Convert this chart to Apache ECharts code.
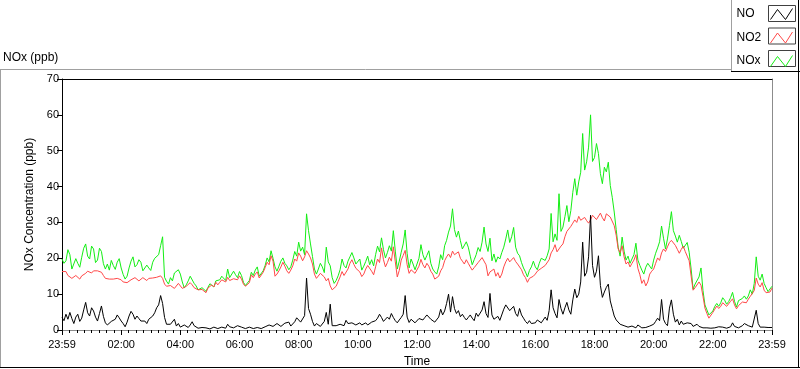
<!DOCTYPE html>
<html>
<head>
<meta charset="utf-8">
<script src="https://cdn.jsdelivr.net/npm/echarts@6/dist/echarts.min.js"></script>
<style>
  html, body { margin: 0; padding: 0; background: #fff; }
  #chart { width: 800px; height: 369px; }
</style>
</head>
<body>
<div id="chart"></div>
<script>
// one sample every 4 minutes, starting at 23:59 of the previous day
const stepMinutes = 4;
const xTickLabels = ['23:59', '02:00', '04:00', '06:00', '08:00', '10:00', '12:00',
  '14:00', '16:00', '18:00', '20:00', '22:00', '23:59'];
const seriesNames = ['NO', 'NO2', 'NOx'];
const seriesColors = { NO: '#000000', NO2: '#ff4848', NOx: '#14ee14' };

const no = [
  3.5, 2.6, 4.4, 3.0, 4.9, 3.2, 1.8, 3.6, 4.4, 2.4,
  3.3, 5.6, 7.7, 4.8, 3.9, 6.2, 5.3, 3.6, 2.5, 4.6,
  6.7, 3.8, 2.0, 1.4, 1.6, 2.4, 2.0, 3.0, 4.2, 3.4,
  2.5, 1.8, 0.9, 2.2, 3.9, 5.2, 4.4, 3.0, 3.9, 3.2,
  2.5, 3.0, 2.5, 1.8, 3.0, 2.6, 3.9, 4.8, 6.2, 7.0,
  9.6, 7.4, 3.5, 1.6, 1.1, 1.6, 2.0, 3.0, 1.1, 1.8,
  0.8, 1.2, 1.4, 0.9, 0.7, 1.4, 2.3, 1.2, 0.7, 0.5,
  0.4, 0.7, 0.3, 0.6, 0.5, 0.3, 0.5, 0.8, 0.7, 0.4,
  0.5, 0.8, 0.8, 0.5, 1.6, 0.9, 1.0, 0.6, 0.7, 1.2,
  1.0, 0.8, 0.7, 0.4, 0.5, 0.8, 0.5, 0.4, 0.5, 0.7,
  0.5, 0.4, 0.7, 0.9, 1.1, 1.4, 1.8, 1.0, 1.3, 1.8,
  1.4, 1.0, 1.1, 1.9, 1.6, 2.2, 1.1, 1.6, 2.3, 3.4,
  3.0, 2.2, 2.5, 4.0, 14.5, 6.0, 4.4, 2.4, 1.1, 1.8,
  1.6, 1.0, 1.3, 2.4, 4.9, 1.6, 7.2, 1.2, 0.7, 1.2,
  1.0, 1.6, 1.8, 1.2, 2.7, 1.8, 1.6, 2.0, 1.8, 1.4,
  1.6, 2.0, 1.4, 1.8, 2.0, 1.4, 1.4, 2.2, 2.0, 2.6,
  3.3, 4.4, 3.5, 2.4, 2.3, 3.6, 3.0, 4.6, 3.5, 2.6,
  2.0, 2.8, 3.5, 4.4, 9.6, 3.6, 2.1, 3.0, 2.5, 2.0,
  2.5, 3.2, 3.5, 2.8, 3.5, 4.2, 3.8, 3.0, 3.0, 2.2,
  2.5, 3.6, 5.8, 4.2, 5.3, 7.4, 10.0, 5.0, 9.3, 6.0,
  4.6, 5.4, 3.7, 4.4, 3.5, 2.8, 3.5, 4.2, 3.3, 2.6,
  4.7, 3.8, 3.6, 5.6, 7.9, 4.6, 3.5, 10.2, 4.2, 3.0,
  3.3, 3.8, 2.7, 3.2, 5.8, 7.0, 6.8, 5.4, 5.8, 6.6,
  4.6, 3.8, 6.0, 4.2, 3.3, 2.4, 1.8, 2.6, 1.8, 1.4,
  2.0, 2.8, 2.7, 2.0, 2.8, 3.6, 2.7, 5.4, 11.2, 6.2,
  4.6, 3.4, 8.5, 6.0, 4.4, 6.2, 7.7, 5.6, 4.4, 8.4,
  11.4, 9.0, 10.0, 13.4, 24.5, 15.0, 16.1, 20.4, 32.0, 18.0,
  14.7, 16.4, 20.7, 12.4, 9.1, 10.6, 11.9, 12.8, 8.1, 6.0,
  3.9, 2.8, 2.3, 1.6, 1.8, 1.2, 1.2, 0.8, 0.7, 1.1,
  1.0, 0.6, 1.4, 1.0, 0.6, 0.9, 0.7, 0.5, 1.1, 1.4,
  1.6, 2.4, 3.3, 2.6, 8.5, 3.0, 1.8, 1.2, 6.1, 8.4,
  4.4, 2.2, 3.0, 1.4, 2.5, 1.6, 1.3, 2.0, 2.3, 1.8,
  1.0, 0.7, 1.6, 1.0, 1.0, 0.6, 0.8, 0.6, 0.8, 0.5,
  0.9, 0.6, 0.7, 0.9, 0.5, 0.8, 0.7, 0.5, 0.7, 0.9,
  2.0, 1.0, 1.0, 0.6, 0.7, 1.2, 1.8, 1.4, 1.2, 1.6,
  0.8, 1.2, 5.5, 1.8, 0.8, 0.6, 0.8, 0.5, 0.7, 0.9,
  0.7
];

const no2 = [
  16.3, 15.8, 16.3, 15.2, 15.6, 14.4, 14.7, 15.2, 14.7, 14.2,
  15.1, 15.6, 15.8, 16.4, 16.3, 15.9, 16.5, 16.8, 16.5, 16.0,
  16.1, 15.2, 14.4, 14.8, 14.2, 13.8, 14.2, 14.7, 14.4, 13.9,
  14.0, 13.4, 13.0, 13.2, 13.5, 14.0, 14.2, 14.6, 14.2, 13.7,
  14.0, 14.6, 14.2, 13.8, 14.4, 14.0, 14.5, 15.0, 14.7, 14.2,
  15.1, 14.4, 12.8, 12.2, 11.9, 12.4, 12.8, 11.6, 11.7, 13.0,
  12.6, 11.6, 11.1, 12.2, 11.7, 13.2, 12.6, 11.8, 12.3, 11.2,
  10.7, 11.3, 10.9, 10.4, 11.7, 12.2, 12.6, 12.0, 13.3, 12.6,
  13.3, 14.0, 13.9, 13.4, 14.7, 13.8, 13.5, 14.3, 14.5, 14.0,
  15.1, 14.2, 12.8, 12.2, 11.9, 13.2, 15.4, 14.6, 15.6, 16.2,
  14.5, 14.9, 16.1, 17.4, 18.9, 18.2, 20.7, 19.2, 15.0, 15.6,
  16.5, 17.6, 18.9, 17.8, 16.5, 15.8, 16.7, 17.9, 19.8, 19.2,
  21.5, 20.6, 19.3, 20.4, 22.1, 21.2, 20.1, 18.4, 15.6, 14.4,
  14.7, 15.8, 15.4, 14.8, 13.7, 14.4, 12.3, 11.2, 11.4, 12.2,
  13.5, 14.8, 16.3, 15.2, 15.6, 17.0, 18.6, 19.6, 18.3, 17.2,
  17.0, 16.2, 14.9, 15.6, 17.0, 18.0, 17.6, 16.4, 15.4, 17.6,
  19.8, 18.8, 22.9, 19.6, 17.6, 18.8, 20.3, 19.2, 23.2, 19.0,
  14.8, 16.6, 19.5, 20.8, 22.2, 18.2, 15.8, 16.8, 17.3, 15.8,
  16.1, 17.8, 19.7, 18.2, 17.3, 18.6, 17.8, 16.4, 15.6, 14.2,
  13.7, 15.0, 16.5, 17.4, 19.3, 20.4, 21.2, 20.2, 22.0, 21.0,
  20.8, 21.8, 20.0, 19.2, 18.4, 19.6, 18.6, 17.6, 16.7, 17.4,
  17.9, 18.8, 19.3, 20.2, 20.4, 18.2, 15.1, 16.2, 16.3, 17.0,
  15.0, 16.0, 14.5, 15.6, 17.6, 19.0, 20.0, 19.0, 19.3, 20.2,
  19.1, 18.4, 17.9, 16.8, 15.4, 14.6, 13.3, 14.4, 13.9, 15.0,
  15.6, 16.4, 16.5, 17.2, 17.0, 18.0, 18.4, 19.6, 21.5, 22.4,
  23.8, 21.8, 22.6, 23.4, 24.0, 26.0, 27.5, 27.0, 28.9, 29.8,
  30.7, 30.0, 31.7, 30.6, 30.5, 31.4, 30.5, 29.8, 30.7, 32.0,
  31.9, 30.8, 31.3, 32.6, 31.3, 30.4, 32.4, 32.8, 31.5, 31.0,
  29.1, 26.4, 22.6, 21.6, 23.5, 20.4, 18.4, 19.0, 17.6, 18.6,
  19.5, 21.0, 17.2, 15.4, 13.0, 14.0, 12.3, 13.4, 15.6, 16.4,
  17.0, 18.6, 20.1, 19.4, 21.5, 22.6, 21.9, 23.2, 24.4, 25.0,
  24.7, 23.6, 22.5, 21.4, 22.5, 23.4, 21.9, 20.6, 19.3, 15.0,
  11.1, 11.8, 12.0, 13.4, 12.5, 9.4, 6.1, 4.6, 3.3, 3.4,
  4.9, 5.8, 6.7, 6.0, 6.6, 7.6, 7.3, 6.6, 7.0, 8.0,
  8.7, 7.0, 5.9, 6.8, 6.7, 7.8, 8.3, 7.6, 8.6, 9.4,
  8.9, 11.0, 14.5, 12.8, 12.0, 13.2, 11.1, 10.4, 10.7, 10.6,
  11.7
];

const nox = [
  19.8, 18.6, 19.3, 22.4, 21.0, 17.0, 17.3, 19.9, 18.6, 17.5,
  20.3, 22.8, 24.0, 20.6, 19.8, 23.4, 22.6, 18.8, 19.5, 22.8,
  21.9, 18.5, 17.0, 18.4, 16.7, 19.4, 18.0, 16.9, 18.9, 19.9,
  17.3, 15.5, 14.2, 15.0, 17.3, 19.2, 20.4, 17.6, 18.2, 19.6,
  18.9, 16.5, 16.7, 18.1, 17.3, 16.6, 18.9, 20.0, 20.4, 21.0,
  23.5, 26.0, 14.7, 13.6, 12.8, 14.6, 13.7, 15.9, 15.6, 16.8,
  15.6, 13.4, 11.7, 12.6, 13.7, 15.0, 14.5, 13.0, 12.3, 11.2,
  10.7, 11.8, 11.4, 10.8, 11.9, 12.9, 12.6, 12.0, 13.7, 13.2,
  14.0, 15.0, 14.5, 13.8, 17.0, 14.6, 15.1, 16.4, 15.4, 14.6,
  16.3, 15.2, 13.3, 12.4, 11.9, 13.8, 16.1, 15.2, 16.7, 17.6,
  15.0, 14.5, 16.5, 18.0, 20.1, 19.0, 22.1, 20.0, 17.6, 16.4,
  17.8, 19.2, 20.1, 18.6, 17.9, 16.8, 17.6, 19.5, 21.9, 20.6,
  24.5, 22.0, 23.1, 21.0, 32.4, 27.7, 24.0, 20.5, 17.0, 15.6,
  17.0, 18.6, 17.6, 16.0, 23.1, 19.0, 17.9, 14.6, 13.0, 13.8,
  15.1, 16.8, 19.8, 18.0, 17.3, 19.2, 20.4, 21.6, 20.1, 18.4,
  18.8, 19.8, 16.7, 17.8, 19.1, 20.6, 18.2, 19.6, 17.9, 21.0,
  23.4, 21.8, 25.7, 22.4, 20.1, 21.6, 23.5, 22.0, 27.7, 22.0,
  17.0, 19.2, 21.7, 24.0, 27.9, 21.4, 17.3, 19.8, 18.4, 16.8,
  17.0, 20.0, 23.8, 21.0, 19.5, 20.8, 22.1, 18.6, 17.0, 16.2,
  15.6, 17.6, 21.0, 19.6, 23.5, 25.0, 27.3, 29.0, 33.8, 28.0,
  25.9, 27.6, 24.9, 22.6, 22.6, 24.6, 23.1, 20.6, 18.2, 19.6,
  21.0, 23.0, 21.9, 24.5, 28.7, 24.0, 21.9, 25.6, 19.3, 21.2,
  18.9, 20.4, 19.8, 21.6, 23.1, 25.4, 27.9, 24.4, 26.0, 28.6,
  23.1, 21.4, 20.7, 18.8, 17.3, 16.2, 14.8, 16.6, 17.6, 19.2,
  17.6, 16.8, 18.6, 20.0, 20.5, 19.4, 20.7, 22.6, 32.5, 24.6,
  26.8, 25.0, 38.0, 27.5, 28.7, 31.6, 34.7, 30.2, 33.3, 38.4,
  42.2, 37.6, 41.3, 44.0, 54.8, 44.6, 46.9, 51.0, 60.0, 47.0,
  48.1, 52.0, 49.2, 43.6, 40.8, 45.4, 44.1, 46.8, 40.3, 37.0,
  32.9, 28.0, 23.1, 20.6, 25.9, 22.0, 19.5, 20.6, 18.6, 19.8,
  21.0, 24.2, 19.5, 18.0, 16.7, 15.6, 17.5, 18.6, 18.4, 17.0,
  19.5, 21.4, 22.9, 24.6, 29.0, 25.6, 22.6, 25.4, 29.1, 33.0,
  27.7, 26.2, 24.5, 26.4, 24.7, 22.8, 22.6, 24.4, 21.7, 17.0,
  11.4, 12.8, 13.3, 14.8, 17.3, 11.0, 7.0, 5.6, 4.2, 3.8,
  5.3, 6.6, 7.4, 6.6, 7.6, 9.0, 8.3, 7.2, 7.9, 9.0,
  10.5, 8.0, 6.4, 8.2, 7.7, 8.8, 9.5, 8.6, 9.5, 11.2,
  10.0, 13.0, 20.4, 15.0, 13.9, 15.6, 13.0, 11.8, 10.7, 11.0,
  12.2
];

const FONT = '"Liberation Sans", Arial, sans-serif';
const toPairs = vals => vals.map((v, i) => [i * stepMinutes, v]);

const chart = echarts.init(document.getElementById('chart'), null, { renderer: 'canvas' });

// LabVIEW style plot legend icon: small zigzag line inside a box
const zigzag = 'path://M0,0 L0.01,0 M28,17 L27.99,17 M3,14 L10,4 L18,14 L25,3';

const lineSeries = (name, vals, z) => ({
  name: name,
  type: 'line',
  data: toPairs(vals),
  showSymbol: false,
  symbol: 'none',
  lineStyle: { color: seriesColors[name], width: 1 },
  itemStyle: { color: seriesColors[name] },
  z: z,
  silent: true,
  animation: false
});

const option = {
  backgroundColor: '#fff',
  animation: false,
  textStyle: { fontFamily: FONT },
  title: {
    text: 'NOx (ppb)',
    left: 3,
    top: 52,
    padding: 0,
    textStyle: { fontSize: 12, fontWeight: 'normal', color: '#000', fontFamily: FONT }
  },
  legend: {
    data: seriesNames.map(n => ({
      name: n,
      icon: zigzag,
      itemStyle: { color: 'rgba(255,255,255,0)', borderColor: seriesColors[n], borderWidth: 1 }
    })),
    orient: 'vertical',
    right: 4,
    top: 5,
    itemWidth: 28,
    itemHeight: 17,
    itemGap: 5.5,
    align: 'right',
    padding: 0,
    selectedMode: false,
    formatter: name => '{t|' + name + '}',
    textStyle: {
      color: '#000', fontSize: 12, fontFamily: FONT,
      rich: { t: { width: 26, align: 'left', fontSize: 12, fontFamily: FONT, color: '#000' } }
    }
  },
  grid: { left: 62, right: 28, top: 79, bottom: 39, containLabel: false, outerBoundsMode: 'none' },
  xAxis: [
    {
      type: 'value',
      min: 0,
      max: 1440,
      interval: 120,
      name: 'Time',
      nameLocation: 'middle',
      nameGap: 26,
      nameTextStyle: { fontSize: 12, color: '#000', fontFamily: FONT },
      axisLine: { onZero: false, lineStyle: { color: '#8c8c8c', width: 1 } },
      axisTick: { length: 5, lineStyle: { color: '#000' } },
      minorTick: { show: true, splitNumber: 8, length: 3, lineStyle: { color: '#000' } },
      axisLabel: {
        margin: 9, fontSize: 11, color: '#000', fontFamily: FONT,
        formatter: v => xTickLabels[Math.round(v / 120)]
      },
      splitLine: { show: false }
    },
    {
      type: 'value',
      position: 'top',
      min: 0,
      max: 1440,
      axisLine: { onZero: false, lineStyle: { color: '#000', width: 1 } },
      axisTick: { show: false },
      axisLabel: { show: false },
      splitLine: { show: false }
    }
  ],
  yAxis: [
    {
      type: 'value',
      min: 0,
      max: 70,
      interval: 10,
      name: 'NOx Concentration (ppb)',
      nameLocation: 'middle',
      nameGap: 23,
      nameTextStyle: { fontSize: 12, color: '#000', fontFamily: FONT },
      axisLine: { show: true, onZero: false, lineStyle: { color: '#000', width: 1 } },
      axisTick: { show: true, length: 5, lineStyle: { color: '#000' } },
      axisLabel: { margin: 3, fontSize: 11, color: '#000', fontFamily: FONT },
      splitLine: { show: false }
    },
    {
      type: 'value',
      position: 'right',
      min: 0,
      max: 70,
      axisLine: { show: true, onZero: false, lineStyle: { color: '#8c8c8c', width: 1 } },
      axisTick: { show: false },
      axisLabel: { show: false },
      splitLine: { show: false }
    }
  ],
  series: [
    lineSeries('NOx', nox, 2),
    lineSeries('NO2', no2, 3),
    lineSeries('NO', no, 4)
  ],
  graphic: [
    // outer panel frame
    { type: 'line', shape: { x1: 0, y1: 69.5, x2: 731, y2: 69.5 }, style: { stroke: '#a0a0a0', lineWidth: 1 }, silent: true },
    { type: 'line', shape: { x1: 0.5, y1: 69, x2: 0.5, y2: 368 }, style: { stroke: '#a0a0a0', lineWidth: 1 }, silent: true },
    { type: 'line', shape: { x1: 0, y1: 367.5, x2: 800, y2: 367.5 }, style: { stroke: '#000', lineWidth: 1 }, silent: true },
    { type: 'line', shape: { x1: 798.5, y1: 72, x2: 798.5, y2: 368 }, style: { stroke: '#000', lineWidth: 1 }, silent: true },
    // legend panel
    { type: 'line', shape: { x1: 731.5, y1: 0, x2: 731.5, y2: 72 }, style: { stroke: '#a0a0a0', lineWidth: 1 }, silent: true },
    { type: 'line', shape: { x1: 731, y1: 71.5, x2: 800, y2: 71.5 }, style: { stroke: '#000', lineWidth: 1 }, silent: true },
    { type: 'line', shape: { x1: 798.5, y1: 0, x2: 798.5, y2: 72 }, style: { stroke: '#000', lineWidth: 1 }, silent: true },
    { type: 'rect', shape: { x: 768.5, y: 5.5, width: 27, height: 16 }, style: { fill: 'none', stroke: '#404040', lineWidth: 1 }, silent: true },
    { type: 'rect', shape: { x: 768.5, y: 28, width: 27, height: 16 }, style: { fill: 'none', stroke: '#404040', lineWidth: 1 }, silent: true },
    { type: 'rect', shape: { x: 768.5, y: 50.5, width: 27, height: 16 }, style: { fill: 'none', stroke: '#404040', lineWidth: 1 }, silent: true }
  ]
};

chart.setOption(option);
</script>
</body>
</html>
